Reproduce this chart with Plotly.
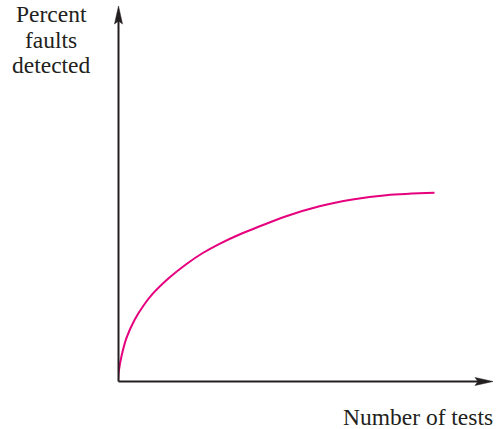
import plotly.graph_objects as go

# Curve (x: number of tests, y: percent faults detected; arbitrary units 0-100)
tests = [0, 0.21, 0.93, 2.27, 4.48, 6.72, 9.28, 13.73, 18.19, 22.61, 27.07, 32.40,
         35.87, 44.85, 53.73, 62.53, 71.52, 84.40]
percent = [0, 2.61, 6.61, 11.52, 16.40, 20.00, 23.28, 27.60, 31.15, 34.13, 36.59, 39.07,
           40.48, 43.95, 46.61, 48.40, 49.55, 50.19]

y_label_lines = ["Percent", "faults", "detected"]
x_label = "Number of tests"

W, H = 498, 429
L, R, T, B = 118, 5, 6, 48
pw, ph = W - L - R, H - T - B

def px(xp):
    return (xp - L) / pw

def py(yp):
    return (H - B - yp) / ph

axis_color = "#231F20"
curve_color = "#E6007E"
font = dict(family="Liberation Serif, Times New Roman, serif", size=23.5, color="#231F20")

fig = go.Figure()
fig.add_trace(go.Scatter(
    x=tests, y=percent, mode="lines",
    line=dict(color=curve_color, width=2, shape="spline", smoothing=1.0),
    hoverinfo="skip", showlegend=False,
))

ox, oy = 118.5, 381.5          # axis origin (pixels)
tip_y, tip_x = 6, 493          # arrow tips (pixels)
head_len, head_half, notch = 18, 4, 3

shapes = [
    dict(type="line", xref="paper", yref="paper", x0=px(ox), y0=py(oy), x1=px(ox), y1=py(tip_y + head_len - notch),
         line=dict(color=axis_color, width=2)),
    dict(type="line", xref="paper", yref="paper", x0=px(ox), y0=py(oy), x1=px(tip_x - head_len + notch), y1=py(oy),
         line=dict(color=axis_color, width=2)),
    dict(type="path", xref="paper", yref="paper",
         path=f"M{px(ox)},{py(tip_y)} L{px(ox - head_half)},{py(tip_y + head_len)} "
              f"L{px(ox)},{py(tip_y + head_len - notch)} L{px(ox + head_half)},{py(tip_y + head_len)} Z",
         fillcolor=axis_color, line=dict(color=axis_color, width=0.5)),
    dict(type="path", xref="paper", yref="paper",
         path=f"M{px(tip_x)},{py(oy)} L{px(tip_x - head_len)},{py(oy - head_half)} "
              f"L{px(tip_x - head_len + notch)},{py(oy)} L{px(tip_x - head_len)},{py(oy + head_half)} Z",
         fillcolor=axis_color, line=dict(color=axis_color, width=0.5)),
]

annotations = []
for i, line in enumerate(y_label_lines):
    annotations.append(dict(
        x=px(51), y=py(14 + 25.5 * i), xref="paper", yref="paper",
        text=line, showarrow=False, xanchor="center", yanchor="middle", font=font,
    ))
annotations.append(dict(
    x=px(495), y=py(417), xref="paper", yref="paper",
    text=x_label, showarrow=False, xanchor="right", yanchor="middle", font=font,
))

fig.update_layout(
    width=W, height=H,
    margin=dict(l=L, r=R, t=T, b=B, pad=0),
    paper_bgcolor="white", plot_bgcolor="white",
    xaxis=dict(range=[0, 100], visible=False, fixedrange=True),
    yaxis=dict(range=[0, 100], visible=False, fixedrange=True),
    annotations=annotations, shapes=shapes,
    showlegend=False,
)

fig.write_html(
    "out.html",
    config={"displayModeBar": False, "staticPlot": True},
    post_script="document.body.style.margin='0';document.body.style.overflow='hidden';",
)
